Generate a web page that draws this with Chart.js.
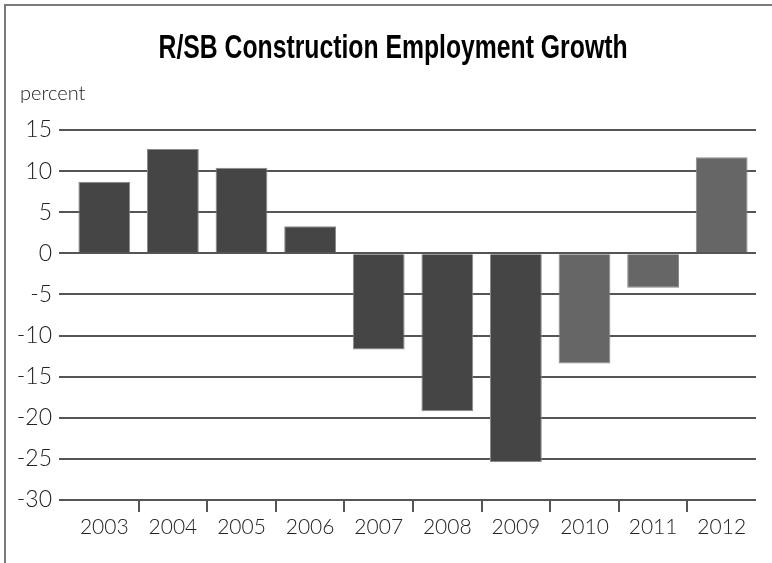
<!DOCTYPE html>
<html>
<head>
<meta charset="utf-8">
<script src="https://cdn.jsdelivr.net/npm/chart.js@4.4.1/dist/chart.umd.min.js"></script>
<style>
  html, body { margin: 0; padding: 0; background: #fff; }
  #wrap { position: relative; width: 772px; height: 563px; overflow: hidden; }
  #frame {
    position: absolute; left: 4px; top: 4px; width: 800px; height: 600px;
    border-left: 2px solid #7a7a7a; border-top: 2px solid #7a7a7a;
  }
  #employmentChart { position: absolute; left: 0; top: 0; }
</style>
</head>
<body>
<div id="wrap">
  <div id="frame"></div>
  <canvas id="employmentChart" width="772" height="563"></canvas>
</div>
<script>
const years = ['2003', '2004', '2005', '2006', '2007', '2008', '2009', '2010', '2011', '2012'];
const growth = [8.7, 12.7, 10.4, 3.3, -11.7, -19.2, -25.4, -13.4, -4.2, 11.7];
const barColors = ['#454545', '#454545', '#454545', '#454545', '#454545', '#454545', '#454545',
                   '#666666', '#666666', '#666666'];
const yTicks = [15, 10, 5, 0, -5, -10, -15, -20, -25, -30];

const titleText = 'R/SB Construction Employment Growth';
const unitText = 'percent';

// bold condensed title plus the "percent" unit label over the y axis
const headings = {
  id: 'headings',
  afterDraw(chart) {
    const c = chart.ctx;
    c.save();
    c.fillStyle = '#000';
    c.font = 'bold 33px "Liberation Sans", Arial, sans-serif';
    c.textBaseline = 'alphabetic';
    c.textAlign = 'center';
    const w = c.measureText(titleText).width;
    const sx = 469 / w;
    c.translate(393, 58);
    c.scale(sx, 1);
    c.fillText(titleText, 0, 0);
    c.restore();

    c.save();
    c.font = '300 20px Lato';
    c.fillStyle = '#222';
    c.textBaseline = 'alphabetic';
    c.textAlign = 'left';
    c.fillText(unitText, 20, 100);
    c.restore();
  }
};

document.addEventListener('DOMContentLoaded', () => {
  const ctx = document.getElementById('employmentChart').getContext('2d');

  new Chart(ctx, {
    type: 'bar',
    data: {
      labels: years,
      datasets: [{
        label: 'Growth',
        data: growth,
        backgroundColor: barColors,
        borderColor: '#8a8a8a',
        borderWidth: 1,
        categoryPercentage: 1,
        barPercentage: 0.755
      }]
    },
    plugins: [headings],
    options: {
      responsive: false,
      animation: false,
      layout: { padding: { left: 0, right: 16, top: 130, bottom: 0 } },
      plugins: {
        legend: { display: false },
        tooltip: { enabled: false },
        title: { display: false }
      },
      scales: {
        x: {
          offset: true,
          border: { display: false },
          grid: {
            offset: true,
            drawOnChartArea: false,
            tickLength: 12,
            lineWidth: 2,
            color: (c) => (c.index > 0 && c.index < years.length) ? '#555' : 'rgba(0,0,0,0)'
          },
          ticks: { color: '#222', font: { family: 'Lato', size: 21, weight: 300 }, padding: 3, maxRotation: 0 },
          afterFit: (scale) => { scale.height = 63; }
        },
        y: {
          min: -30,
          max: 15,
          border: { display: false },
          grid: { color: '#555', lineWidth: 2, tickLength: 11 },
          afterBuildTicks: (scale) => { scale.ticks = yTicks.map(v => ({ value: v })); },
          ticks: { color: '#222', font: { family: 'Lato', size: 23, weight: 300 }, padding: 7 },
          afterFit: (scale) => { scale.width = 70; }
        }
      }
    }
  });
});
</script>
</body>
</html>
